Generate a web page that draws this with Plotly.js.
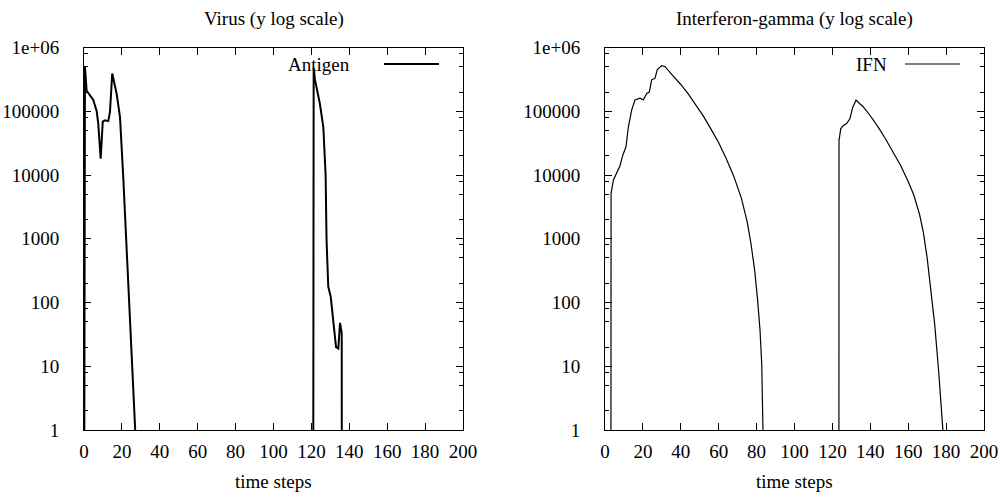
<!DOCTYPE html>
<html>
<head>
<meta charset="utf-8">
<script src="https://cdn.plot.ly/plotly-3.0.1.min.js"></script>
<style>html,body{margin:0;padding:0;background:#fff;}#chart{width:1002px;height:493px;}</style>
</head>
<body>
<div id="chart"></div>
<script>
// ---- data ----
var antigenTime = [0, 0.5, 1.4, 4.9, 6.7, 7.5, 8.8, 9.9, 11.1, 12.8, 13.7, 14.9, 17.2, 19, 20.7, 22.2, 23.7, 24.6, 25, 26.9, 27.5,
                   120.9, 121.2, 121.9, 124.5, 126.3, 127.5, 128, 128.9, 130.2, 133, 134.2, 135.1, 136, 136.1];
var antigenValue = [0.001, 5e5, 2.1e5, 1.5e5, 1e5, 6.5e4, 1.8e4, 6.9e4, 7.2e4, 7e4, 9.8e4, 3.9e5, 1.9e5, 8.1e4, 9.4e3, 1000, 100, 29, 12, 1.1, 0.5,
                    0.001, 4.8e5, 3.1e5, 1.3e5, 5.6e4, 1e4, 950, 177, 123, 20, 19, 48, 33, 0.001];

var ifnTime = [3.1, 3.2, 4.4, 6.2, 7.9, 9.3, 11.1, 12.3, 14.1, 15.8, 18.5, 20.2, 22, 23.4, 24.6, 26.4, 27.6, 29.9, 31.7,
               36, 40, 44, 48, 52, 56, 60, 64, 68, 72, 75, 77, 79, 80.5, 81.8, 82.7, 83.3, 83.6, 84,
               123.4, 123.5, 124.4, 125.8, 127.5, 129.3, 130.7, 132.5, 134.6,
               136, 140, 144, 148, 152, 156, 160, 163, 166, 168, 170, 172, 174, 176, 177.5, 178.3, 178.6];
var ifnValue = [0.001, 5100, 8300, 1.1e4, 1.4e4, 2e4, 2.8e4, 5.6e4, 1.05e5, 1.5e5, 1.6e5, 1.5e5, 1.9e5, 2e5, 3.1e5, 3.3e5, 4.5e5, 5.2e5, 5e5,
                3.55e5, 2.63e5, 1.86e5, 1.26e5, 8.3e4, 5.2e4, 3.2e4, 1.8e4, 9500, 4300, 1860, 850, 316, 112, 37, 11, 2.5, 1, 0.1,
                0.001, 3.5e4, 5.3e4, 6e4, 6.4e4, 7.7e4, 1.15e5, 1.5e5, 1.3e5,
                1.2e5, 8.5e4, 5.75e4, 3.7e4, 2.34e4, 1.41e4, 7900, 4800, 2400, 1260, 500, 166, 45, 8.9, 2.2, 1, 0.1];

var yTickVals = [1, 10, 100, 1000, 10000, 100000, 1000000];
var yTickText = ['1', '10', '100', '1000', '10000', '100000', '1e+06'];
var yMinorVals = [2, 5, 8, 20, 50, 80, 200, 500, 800, 2000, 5000, 8000, 2e4, 5e4, 8e4, 2e5, 5e5, 8e5];
var xTickVals = [0, 20, 40, 60, 80, 100, 120, 140, 160, 180, 200];

var titles = ['Virus (y log scale)', 'Interferon-gamma (y log scale)'];
var xLabel = 'time steps';
var legendNames = ['Antigen', 'IFN'];

// ---- layout ----
var W = 1002, H = 493;
var font = {family: 'Liberation Serif, Times New Roman, serif', size: 19, color: '#000'};
var dom1 = [84 / W, 463 / W], dom2 = [605 / W, 984 / W];
var ydom = [(H - 430) / H, (H - 47.5) / H];

function xaxisDef(domain, anchor) {
  return {
    domain: domain, anchor: anchor, range: [0, 200], type: 'linear',
    tickmode: 'array', tickvals: xTickVals, ticks: 'inside', ticklen: 7, tickwidth: 1, tickcolor: '#000',
    showline: true, linecolor: '#000', linewidth: 1, mirror: 'ticks', showgrid: false, zeroline: false,
    tickfont: font, ticklabelstandoff: 4, fixedrange: true
  };
}
function yaxisDef(anchor) {
  return {
    domain: ydom, anchor: anchor, type: 'log', range: [0, 6],
    tickmode: 'array', tickvals: yTickVals, ticktext: yTickText, ticks: 'inside', ticklen: 7, tickwidth: 1, tickcolor: '#000',
    minor: {tickmode: 'array', tickvals: yMinorVals, ticks: 'inside', ticklen: 4, tickwidth: 1, tickcolor: '#000', showgrid: false},
    showline: true, linecolor: '#000', linewidth: 1, mirror: 'ticks', showgrid: false, zeroline: false,
    tickfont: font, ticklabelstandoff: 20, fixedrange: true
  };
}

var traces = [
  {x: antigenTime, y: antigenValue, xaxis: 'x', yaxis: 'y', type: 'scatter', mode: 'lines', name: legendNames[0],
   line: {color: '#000', width: 2}, cliponaxis: true, showlegend: false},
  {x: ifnTime, y: ifnValue, xaxis: 'x2', yaxis: 'y2', type: 'scatter', mode: 'lines', name: legendNames[1],
   line: {color: '#000', width: 1.2}, cliponaxis: true, showlegend: false}
];

function px(x) { return x / W; }
function py(y) { return (H - y) / H; }

var layout = {
  width: W, height: H, margin: {l: 0, r: 0, t: 0, b: 0},
  paper_bgcolor: '#fff', plot_bgcolor: '#fff', showlegend: false, font: font,
  xaxis: xaxisDef(dom1, 'y'), yaxis: yaxisDef('x'),
  xaxis2: xaxisDef(dom2, 'y2'), yaxis2: yaxisDef('x2'),
  annotations: [
    {text: titles[0], xref: 'paper', yref: 'paper', x: (dom1[0] + dom1[1]) / 2, y: py(19), xanchor: 'center', yanchor: 'middle', showarrow: false, font: font},
    {text: titles[1], xref: 'paper', yref: 'paper', x: (dom2[0] + dom2[1]) / 2, y: py(19), xanchor: 'center', yanchor: 'middle', showarrow: false, font: font},
    {text: xLabel, xref: 'paper', yref: 'paper', x: (dom1[0] + dom1[1]) / 2, y: py(481), xanchor: 'center', yanchor: 'middle', showarrow: false, font: font},
    {text: xLabel, xref: 'paper', yref: 'paper', x: (dom2[0] + dom2[1]) / 2, y: py(481), xanchor: 'center', yanchor: 'middle', showarrow: false, font: font},
    {text: legendNames[0], xref: 'paper', yref: 'paper', x: px(352), y: py(64), xanchor: 'right', yanchor: 'middle', showarrow: false, font: font},
    {text: legendNames[1], xref: 'paper', yref: 'paper', x: px(889), y: py(64), xanchor: 'right', yanchor: 'middle', showarrow: false, font: font}
  ],
  shapes: [
    {type: 'line', xref: 'paper', yref: 'paper', x0: px(384), x1: px(439), y0: py(64), y1: py(64), line: {color: '#000', width: 2}},
    {type: 'line', xref: 'paper', yref: 'paper', x0: px(905), x1: px(960), y0: py(64), y1: py(64), line: {color: '#000', width: 1.2}}
  ]
};

Plotly.newPlot('chart', traces, layout, {staticPlot: true, displayModeBar: false});
</script>
</body>
</html>
